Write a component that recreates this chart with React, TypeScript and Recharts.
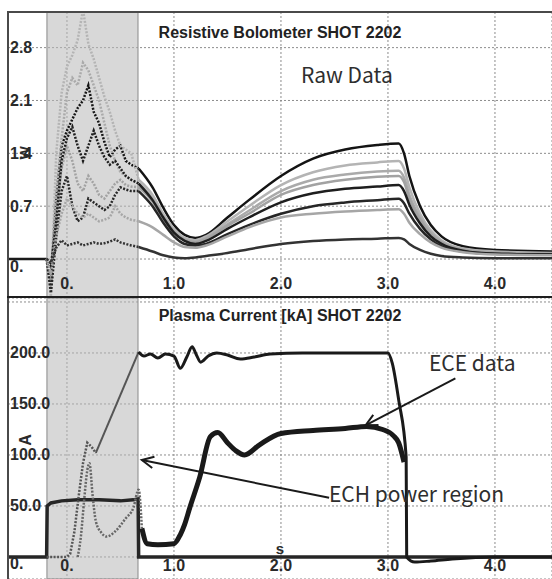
import React from 'react'
import { LineChart, Line, XAxis, YAxis, CartesianGrid, ReferenceArea, ReferenceLine } from 'recharts'

// time axis [s]
const X_DOMAIN = [-0.551, 4.533]
const X_TICKS = [0, 1, 2, 3, 4]
const ECH_START = -0.187
const ECH_END = 0.664

// --- Resistive bolometer (top panel) ---
const BOLO_TICKS = [0, 0.7, 1.4, 2.1, 2.8]
const tPre = [-0.551, -0.19]
const prePower = [0, 0]
const tEarly = [-0.19, -0.15, -0.1, -0.05, 0, 0.05, 0.1, 0.15, 0.2, 0.25, 0.3, 0.35, 0.4, 0.45, 0.5, 0.55, 0.6, 0.67]
const tLate = [0.67, 0.8, 0.9, 1.0, 1.1, 1.2, 1.3, 1.5, 1.7, 2.0, 2.3, 2.6, 2.9, 3.1, 3.15, 3.2, 3.3, 3.4, 3.5, 3.7, 4.0, 4.533]

const ch1Early = [0, -0.3, 0.8, 1.5, 1.7, 1.85, 2.0, 2.1, 2.3, 1.95, 1.8, 1.55, 1.35, 1.45, 1.5, 1.3, 1.25, 1.2]
const ch1Late = [1.2, 0.95, 0.68, 0.45, 0.32, 0.28, 0.32, 0.55, 0.78, 1.1, 1.33, 1.45, 1.51, 1.53, 1.4, 1.1, 0.7, 0.45, 0.3, 0.17, 0.12, 0.1]
const ch2Early = [0, -0.5, 1.4, 2.2, 2.55, 2.7, 2.9, 3.3, 2.85, 2.65, 2.4, 2.15, 1.95, 1.7, 1.5, 1.45, 1.4, 1.05]
const ch2Late = [1.05, 0.85, 0.6, 0.4, 0.28, 0.25, 0.3, 0.5, 0.7, 0.98, 1.15, 1.24, 1.28, 1.3, 1.2, 0.95, 0.6, 0.38, 0.25, 0.14, 0.1, 0.08]
const ch3Early = [0, -0.2, 0.9, 1.6, 2.2, 2.4, 2.3, 2.6, 2.5, 2.3, 2.1, 1.8, 1.5, 1.3, 1.15, 1.1, 1.05, 1.0]
const ch3Late = [1.0, 0.8, 0.56, 0.37, 0.26, 0.23, 0.28, 0.46, 0.64, 0.9, 1.05, 1.12, 1.16, 1.17, 1.08, 0.85, 0.55, 0.35, 0.23, 0.13, 0.09, 0.07]
const ch4Early = [0, -0.3, 0.6, 1.2, 1.5, 1.3, 1.0, 0.9, 1.1, 1.0, 0.85, 0.8, 0.9, 1.0, 1.05, 0.98, 0.96, 0.95]
const ch4Late = [0.95, 0.76, 0.53, 0.35, 0.25, 0.22, 0.27, 0.44, 0.6, 0.85, 0.98, 1.05, 1.09, 1.1, 1.02, 0.8, 0.52, 0.33, 0.22, 0.12, 0.08, 0.07]
const ch5Early = [0, -0.1, 0.5, 1.3, 1.6, 1.75, 1.5, 1.3, 1.5, 1.7, 1.5, 1.35, 1.25, 1.3, 1.2, 1.1, 1.05, 1.0]
const ch5Late = [1.0, 0.78, 0.55, 0.35, 0.24, 0.2, 0.24, 0.4, 0.55, 0.75, 0.87, 0.93, 0.96, 0.98, 0.9, 0.72, 0.47, 0.3, 0.2, 0.11, 0.07, 0.06]
const ch6Early = [0, -0.45, 0.3, 0.9, 1.1, 0.7, 0.5, 0.55, 0.8, 0.75, 0.7, 0.65, 0.7, 0.85, 0.95, 0.92, 0.9, 0.9]
const ch6Late = [0.9, 0.7, 0.48, 0.3, 0.2, 0.18, 0.2, 0.33, 0.45, 0.6, 0.7, 0.75, 0.78, 0.8, 0.74, 0.6, 0.4, 0.26, 0.17, 0.1, 0.07, 0.06]
const ch7Early = [0, -0.2, 0.3, 0.6, 0.8, 0.7, 0.6, 0.55, 0.6, 0.55, 0.5, 0.52, 0.55, 0.7, 0.6, 0.55, 0.52, 0.5]
const ch7Late = [0.5, 0.42, 0.32, 0.22, 0.16, 0.15, 0.18, 0.3, 0.42, 0.55, 0.6, 0.63, 0.65, 0.66, 0.6, 0.48, 0.33, 0.22, 0.15, 0.09, 0.06, 0.05]
const ch8Early = [0, -0.05, 0.15, 0.25, 0.18, 0.2, 0.22, 0.18, 0.2, 0.22, 0.2, 0.21, 0.23, 0.26, 0.22, 0.2, 0.18, 0.16]
const ch8Late = [0.16, 0.1, 0.05, 0.02, 0.01, 0.02, 0.04, 0.08, 0.13, 0.2, 0.24, 0.26, 0.27, 0.28, 0.26, 0.2, 0.12, 0.07, 0.04, 0.02, 0.01, 0.01]

// --- Plasma current / ECE / ECH (bottom panel) ---
const CUR_TICKS = [0, 50, 100, 150, 200, 250]
const echT = [-0.551, -0.19, -0.185, -0.15, -0.05, 0.1, 0.3, 0.5, 0.62, 0.665, 0.67, 4.533]
const echPower = [0, 0, 50, 53, 55, 56, 56, 55, 56, 57, 0, 0]
const ipRiseT = [-0.19, 0.0, 0.03, 0.07, 0.11, 0.15, 0.19, 0.23, 0.27]
const ipRise = [0, 0, 3, 25, 60, 92, 112, 108, 102]
const ipRampT = [0.27, 0.67]
const ipRamp = [102, 201]
const ipT = [0.67, 0.72, 0.78, 0.85, 0.92, 1.0, 1.06, 1.12, 1.17, 1.21, 1.25, 1.32, 1.4, 1.5, 1.62, 1.75, 1.9, 2.2, 2.6, 3.0, 3.04, 3.1, 3.17, 3.175, 3.25, 3.4, 3.6, 4.0, 4.533]
const ip = [201, 197, 199, 195, 199, 197, 185, 196, 206, 198, 191, 197, 200, 198, 194, 196, 199, 200, 200, 200, 190, 154, 98, 0, -5, -4, -2, 0, 0]
const eceEarlyT = [0.1, 0.13, 0.16, 0.19, 0.21, 0.24, 0.27, 0.32, 0.37, 0.45, 0.55, 0.62, 0.67, 0.7]
const eceEarly = [0, 20, 55, 85, 92, 60, 35, 24, 20, 25, 38, 48, 66, 28]
const eceT = [0.7, 0.75, 0.85, 1.0, 1.06, 1.1, 1.15, 1.24, 1.34, 1.41, 1.5, 1.58, 1.66, 1.8, 2.0, 2.3, 2.6, 2.8, 2.95, 3.05, 3.1, 3.15]
const ece = [28, 13, 12, 13, 22, 32, 49, 78, 118, 122, 112, 104, 100, 110, 121, 124, 126, 128, 125, 119, 112, 93]

const pts = (ts: number[], vs: number[]) => ts.map((t, i) => ({ t, v: vs[i] }))

const bolo = [
  { early: ch1Early, late: ch1Late, color: '#141414' },
  { early: ch2Early, late: ch2Late, color: '#b4b4b4' },
  { early: ch3Early, late: ch3Late, color: '#aaaaaa' },
  { early: ch4Early, late: ch4Late, color: '#a2a2a2' },
  { early: ch5Early, late: ch5Late, color: '#1e1e1e' },
  { early: ch6Early, late: ch6Late, color: '#262626' },
  { early: ch7Early, late: ch7Late, color: '#a6a6a6' },
  { early: ch8Early, late: ch8Late, color: '#333333' },
]

const tickFont = { fontFamily: 'Liberation Sans, Arial, sans-serif', fontSize: 16, fontWeight: 700, fill: '#2a2a2a' }

const YTick = (p: any) => {
  const { x, y, payload } = p
  if (payload.value === 250) return <g />
  const label = payload.value === 0 ? '0.' : payload.value.toFixed(1)
  return (
    <text x={x + 2} y={payload.value === 0 ? y + 7 : y} dominantBaseline="central" textAnchor="start" {...tickFont}>
      {label}
    </text>
  )
}

const XTick = (p: any) => {
  const { x, y, payload } = p
  const label = payload.value === 0 ? '0.' : payload.value.toFixed(1)
  return (
    <text x={x} y={y - 14} dominantBaseline="central" textAnchor="middle" {...tickFont}>
      {label}
    </text>
  )
}

const Arrow = (p: any) => {
  const { x1, y1, x2, y2 } = p
  const a = Math.atan2(y2 - y1, x2 - x1)
  const L = 13
  const s = 0.45
  const h1 = `${x2 - L * Math.cos(a - s)},${y2 - L * Math.sin(a - s)}`
  const h2 = `${x2 - L * Math.cos(a + s)},${y2 - L * Math.sin(a + s)}`
  return (
    <g>
      <line x1={x1} y1={y1} x2={x2} y2={y2} stroke="#1a1a1a" strokeWidth={2} />
      <polyline points={`${h1} ${x2},${y2} ${h2}`} fill="none" stroke="#1a1a1a" strokeWidth={2} />
    </g>
  )
}

const grid = <CartesianGrid stroke="#8c8c8c" strokeDasharray="2 2" />

export default function App() {
  const line = { position: 'absolute' as const, background: '#4a4a4a' }
  const title = { fontFamily: 'Liberation Sans, Arial, sans-serif', fontSize: 16, fontWeight: 700, fill: '#222' }
  const note = { fontFamily: 'Noto Sans CJK KR, Noto Sans, sans-serif', fontSize: 21, fill: '#2e2e2e' }
  return (
    <div style={{ position: 'absolute', left: 0, top: 0, width: 552, height: 579, background: '#fff', overflow: 'hidden' }}>
      <div style={{ position: 'absolute', left: 7, top: 12 }}>
        <LineChart width={545} height={286} margin={{ top: 0, right: 0, bottom: 0, left: 0 }}>
          <ReferenceArea x1={ECH_START} x2={ECH_END} fill="#b8b8b8" fillOpacity={0.55} stroke="#8a8a8a" strokeWidth={1} />
          {grid}
          <XAxis type="number" dataKey="t" domain={X_DOMAIN} ticks={X_TICKS} allowDataOverflow height={1} tickSize={0} tickMargin={0} axisLine={false} tickLine={false} interval={0} tick={<XTick />} />
          <YAxis type="number" dataKey="v" domain={[-0.503, 3.272]} ticks={BOLO_TICKS} allowDataOverflow width={1} tickSize={0} tickMargin={0} axisLine={false} tickLine={false} interval={0} tick={<YTick />} />
          <Line data={pts(tPre, prePower)} dataKey="v" type="linear" stroke="#1a1a1a" strokeWidth={2.5} dot={false} isAnimationActive={false} />
          {bolo.map((c, i) => (
            <Line key={'e' + i} data={pts(tEarly, c.early)} dataKey="v" type="linear" stroke={c.color} strokeWidth={2.5} strokeDasharray="2 1.5" dot={false} isAnimationActive={false} />
          ))}
          {bolo.map((c, i) => (
            <Line key={'l' + i} data={pts(tLate, c.late)} dataKey="v" type="monotone" stroke={c.color} strokeWidth={2.5} dot={false} isAnimationActive={false} />
          ))}
        </LineChart>
      </div>
      <div style={{ position: 'absolute', left: 7, top: 298 }}>
        <LineChart width={545} height={282} margin={{ top: 0, right: 0, bottom: 0, left: 0 }}>
          <ReferenceArea x1={ECH_START} x2={ECH_END} fill="#b8b8b8" fillOpacity={0.55} stroke="#8a8a8a" strokeWidth={1} />
          {grid}
          <XAxis type="number" dataKey="t" domain={X_DOMAIN} ticks={X_TICKS} allowDataOverflow height={1} tickSize={0} tickMargin={0} axisLine={false} tickLine={false} interval={0} tick={<XTick />} />
          <YAxis type="number" dataKey="v" domain={[-21.6, 253.9]} ticks={CUR_TICKS} allowDataOverflow width={1} tickSize={0} tickMargin={0} axisLine={false} tickLine={false} interval={0} tick={<YTick />} />
          <Line data={pts(echT, echPower)} dataKey="v" type="linear" stroke="#262626" strokeWidth={3.5} dot={false} isAnimationActive={false} />
          <Line data={pts(ipRiseT, ipRise)} dataKey="v" type="linear" stroke="#555" strokeWidth={2.5} strokeDasharray="2 1.5" dot={false} isAnimationActive={false} />
          <Line data={pts(ipRampT, ipRamp)} dataKey="v" type="linear" stroke="#555" strokeWidth={2} dot={false} isAnimationActive={false} />
          <Line data={pts(eceEarlyT, eceEarly)} dataKey="v" type="monotone" stroke="#666" strokeWidth={2.5} strokeDasharray="2 1.5" dot={false} isAnimationActive={false} />
          <Line data={pts(ipT, ip)} dataKey="v" type="monotone" stroke="#1a1a1a" strokeWidth={3} dot={false} isAnimationActive={false} />
          <Line data={pts(eceT, ece)} dataKey="v" type="monotone" stroke="#1a1a1a" strokeWidth={5} dot={false} isAnimationActive={false} />
          <ReferenceLine segment={[{ x: 3.63, y: 175 }, { x: 2.79, y: 129 }]} shape={<Arrow />} />
          <ReferenceLine segment={[{ x: 2.45, y: 58 }, { x: 0.7, y: 95 }]} shape={<Arrow />} />
        </LineChart>
      </div>
      <div style={{ ...line, left: 7, top: 11, width: 545, height: 1.5 }} />
      <div style={{ ...line, left: 7, top: 11, width: 1.5, height: 568 }} />
      <div style={{ ...line, left: 7, top: 296, width: 545, height: 2, background: '#1e1e1e' }} />
      <svg width={552} height={579} style={{ position: 'absolute', left: 0, top: 0, pointerEvents: 'none' }}>
        <text x={280} y={32} textAnchor="middle" dominantBaseline="central" {...title}>Resistive Bolometer SHOT 2202</text>
        <text x={280} y={315} textAnchor="middle" dominantBaseline="central" {...title}>Plasma Current [kA] SHOT 2202</text>
        <text x={301} y={74} dominantBaseline="central" {...note} fontSize={21}>Raw Data</text>
        <text x={429} y={362} dominantBaseline="central" {...note}>ECE data</text>
        <text x={329} y={493} dominantBaseline="central" {...note}>ECH power region</text>
        <text x={280} y={548} textAnchor="middle" dominantBaseline="central" {...tickFont} fontSize={15}>s</text>
        <text x={25} y={440} textAnchor="middle" dominantBaseline="central" {...tickFont} transform="rotate(-90 25 440)">A</text>
        <text x={25} y={153} textAnchor="middle" dominantBaseline="central" {...tickFont} fontSize={14} transform="rotate(-90 25 153)">W</text>
      </svg>
    </div>
  )
}
